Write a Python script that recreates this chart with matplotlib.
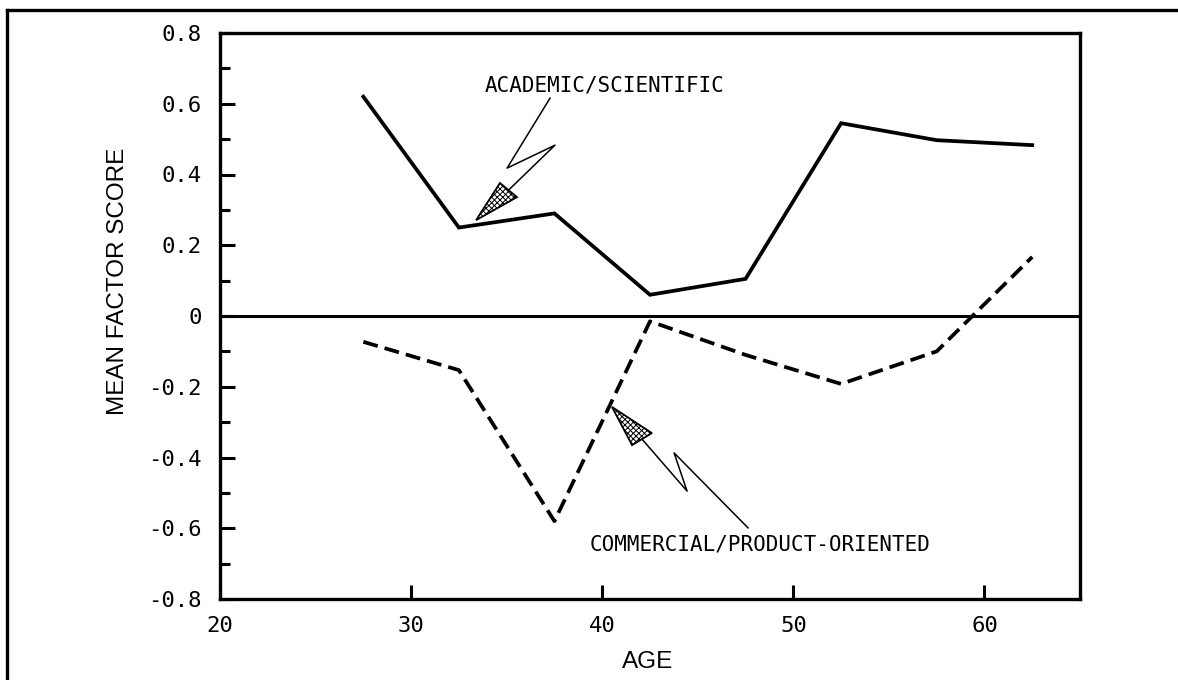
import matplotlib.pyplot as plt
from matplotlib.lines import Line2D
from matplotlib.patches import Polygon
from matplotlib.ticker import FixedLocator, FixedFormatter, MultipleLocator

# mean factor scores by age group
age = [27.5, 32.5, 37.5, 42.5, 47.5, 52.5, 57.5, 62.5]
academic = [0.62, 0.25, 0.29, 0.06, 0.105, 0.545, 0.497, 0.483]
commercial = [-0.073, -0.153, -0.58, -0.015, -0.11, -0.192, -0.10, 0.167]

y_ticks = [-0.8, -0.6, -0.4, -0.2, 0, 0.2, 0.4, 0.6, 0.8]
y_tick_labels = ["-0.8", "-0.6", "-0.4", "-0.2", "0", "0.2", "0.4", "0.6", "0.8"]
x_ticks = [20, 30, 40, 50, 60]
x_tick_labels = ["20", "30", "40", "50", "60"]

mono = "DejaVu Sans Mono"
sans = "Liberation Sans"

fig = plt.figure(figsize=(11.78, 6.8), dpi=100)
W, H = 1178, 680

# frame round the whole figure (left and top edges only show)
fig.add_artist(Line2D([7 / W, 7 / W], [0, 1 - 10 / H], transform=fig.transFigure,
                      color="black", lw=2.4))
fig.add_artist(Line2D([7 / W, 1], [1 - 10 / H, 1 - 10 / H], transform=fig.transFigure,
                      color="black", lw=2.4))

ax = fig.add_axes([220 / W, 1 - 599 / H, 860 / W, 566 / H])
ax.set_xlim(20, 65)
ax.set_ylim(-0.8, 0.8)

for s in ax.spines.values():
    s.set_linewidth(2.4)

ax.axhline(0, color="black", lw=2.2)
ax.plot(age, academic, color="black", lw=2.7, solid_joinstyle="miter")
ax.plot(age, commercial, color="black", lw=2.7, dashes=(4.0, 1.9))

ax.yaxis.set_major_locator(FixedLocator(y_ticks))
ax.yaxis.set_major_formatter(FixedFormatter(y_tick_labels))
ax.yaxis.set_minor_locator(MultipleLocator(0.1))
ax.xaxis.set_major_locator(FixedLocator(x_ticks))
ax.xaxis.set_major_formatter(FixedFormatter(x_tick_labels))

ax.tick_params(axis="y", which="major", direction="in", length=11, width=2.2, pad=13,
               labelsize=16, labelfontfamily=mono)
ax.tick_params(axis="y", which="minor", direction="in", length=7, width=2.2)
ax.tick_params(axis="x", which="major", direction="in", length=10, width=2.2, pad=12,
               labelsize=16, labelfontfamily=mono)

fig.text(118 / W, 1 - 281 / H, "MEAN FACTOR SCORE", rotation=90, ha="center", va="center",
         fontsize=17.5, family=sans)
fig.text(648 / W, 1 - 662 / H, "AGE", ha="center", va="center", fontsize=17.5, family=sans)

plt.rcParams["hatch.linewidth"] = 0.7


def bolt(points, tip, corners):
    # zig-zag pointer with a stippled arrow head
    xs = [p[0] for p in points]
    ys = [p[1] for p in points]
    ax.plot(xs, ys, color="black", lw=1.1)
    head = Polygon([tip, corners[0], corners[1]], closed=True, facecolor="white",
                   edgecolor="black", lw=1.3, hatch="xxxxxx")
    ax.add_patch(head)


ax.text(33.87, 0.653, "ACADEMIC/SCIENTIFIC", ha="left", va="center",
        fontsize=15, family=mono)
bolt([(37.27, 0.616), (35.02, 0.418), (37.53, 0.483), (35.10, 0.356)],
     (33.40, 0.271), [(34.65, 0.376), (35.54, 0.336)])

ax.text(39.36, -0.647, "COMMERCIAL/PRODUCT-ORIENTED", ha="left", va="center",
        fontsize=15, family=mono)
bolt([(47.63, -0.599), (43.76, -0.387), (44.44, -0.495), (42.08, -0.348)],
     (40.51, -0.257), [(41.56, -0.365), (42.60, -0.331)])

fig.savefig("out.png", dpi=100)
